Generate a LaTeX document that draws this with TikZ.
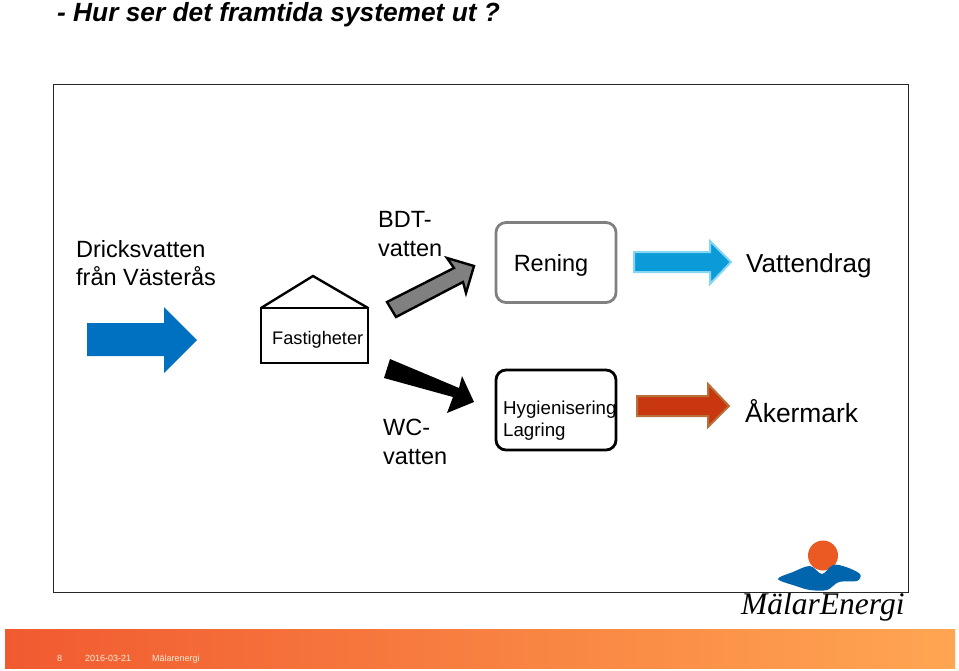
\documentclass[tikz,border=0pt]{standalone}
\usepackage{fontspec}
\setmainfont{Liberation Sans}
\newfontfamily\logofont{Liberation Serif}
\definecolor{inflow-blue}{HTML}{0070C0}
\definecolor{clean-blue}{HTML}{0B9BD8}
\definecolor{clean-edge}{HTML}{85D6F2}
\definecolor{soil-red}{HTML}{C8370F}
\definecolor{soil-edge}{HTML}{B8703A}
\definecolor{sun-orange}{HTML}{EC5A24}
\definecolor{band-left}{HTML}{F15A30}
\definecolor{band-right}{HTML}{FFA652}
\tikzset{
    label-text/.style = {inner sep=0pt, align=left, anchor=north west, font=\fontsize{23.5}{28.5}\selectfont},
    big-text/.style = {inner sep=0pt, anchor=base west, font=\fontsize{26.4}{30}\selectfont},
    small-text/.style = {inner sep=0pt, anchor=base west, font=\fontsize{18.2}{22}\selectfont},
    footer-text/.style = {inner sep=0pt, anchor=base west, text=white!85!orange, font=\fontsize{9}{11}\selectfont},
    process-box/.style = {rectangle, rounded corners=10pt, line width=2.8pt, fill=white, minimum width=120pt, minimum height=80pt, inner sep=0pt},
}

\begin{document}
\begin{tikzpicture}[x=1pt,y=-1pt]
\useasboundingbox (0,0) rectangle (959,670);
% footer
\shade[left color=band-left, right color=band-right] (5,629) rectangle (955,668);
\node[inner sep=0pt, anchor=base west, font=\fontsize{26.3}{30}\selectfont\bfseries\itshape] (title) at (57,21.5) {- Hur ser det framtida systemet ut ?};
\node[label-text] (drink) at (76,240) {Dricksvatten\\från Västerås};
\fill[inflow-blue] (87,323) -- (164,323) -- (164,307) -- (197,340) -- (164,373) -- (164,356) -- (87,356) -- cycle;
% house
\draw[line width=2.4pt] (261,308) rectangle (368,363);
\draw[line width=2.4pt, line join=miter] (261,308) -- (313,276) -- (368,308);
\node[small-text] (house) at (272,344) {Fastigheter};
% arrows out of the house
\draw[fill=black!50, line width=2.4pt, line join=miter] (387,302) -- (454,268) -- (447,258) -- (474,266) -- (466,293) -- (463,282) -- (396,317) -- cycle;
\fill (390,359) -- (459,388) -- (462,376) -- (474,402) -- (447,413) -- (453,397) -- (384,378) -- cycle;
\node[label-text] (grey) at (378,211.5) {BDT-\\vatten};
\node[label-text] (wc) at (383,419) {WC-\\vatten};
% treatment
\node[process-box, draw=black!50] (clean) at (556,262.5) {};
\node[inner sep=0pt, font=\fontsize{23.5}{28}\selectfont] (cleantext) at (551,265) {Rening};
\node[process-box, draw=black] (hyg) at (556,410) {};
\node[inner sep=0pt, align=left, anchor=north west, font=\fontsize{18.7}{22.5}\selectfont] (hygtext) at (503,400.5) {Hygienisering\\Lagring};
\draw[fill=clean-blue, draw=clean-edge, line width=2pt, line join=miter] (634,252) -- (710,252) -- (710,241) -- (731,262) -- (710,284) -- (710,272) -- (634,272) -- cycle;
\draw[fill=soil-red, draw=soil-edge, line width=2pt, line join=miter] (637,396) -- (708,396) -- (708,384) -- (729,406) -- (708,427) -- (708,416) -- (637,416) -- cycle;
\node[big-text, font=\fontsize{26}{30}\selectfont] (stream) at (746,272) {Vattendrag};
\node[big-text] (field) at (745,422) {Åkermark};
% logo
\fill[sun-orange] (823,555.5) circle (15);
\fill[inflow-blue!90!black] plot[smooth cycle, tension=0.55] coordinates {(778,579) (793,572) (810,566) (822,574) (833,565) (846,567) (860,574) (857,581) (839,582) (827,590) (810,590) (796,586)};
\node[inner sep=0pt, anchor=base west, font=\logofont\itshape\fontsize{31.5}{36}\selectfont] (logo) at (741,614) {MälarEnergi};
% frame
\draw[black!85, line width=1pt] (53,84) rectangle (908,592);
% footer text
\node[footer-text] (page) at (57,661) {8};
\node[footer-text] (date) at (85,661) {2016-03-21};
\node[footer-text] (company) at (152,661) {Mälarenergi};
\end{tikzpicture}
\end{document}
